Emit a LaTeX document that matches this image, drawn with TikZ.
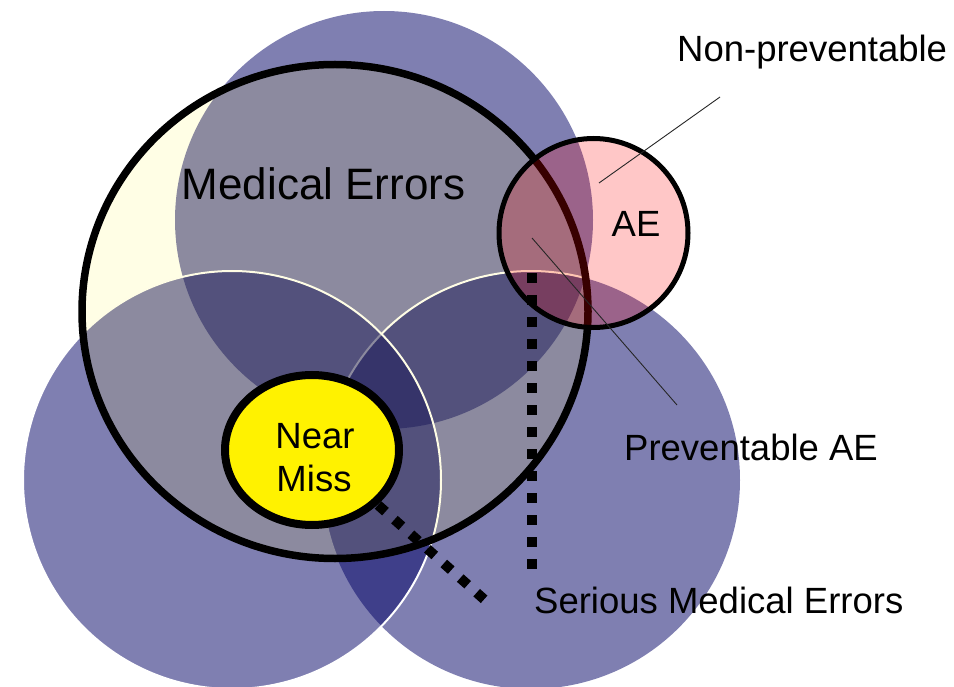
\documentclass[tikz,border=0pt]{standalone}
\usepackage{fontspec}
\setmainfont{Liberation Sans}
\definecolor{disknavy}{RGB}{0,0,100}
\begin{document}
\begin{tikzpicture}[x=1pt,y=-1pt,
  blob/.style={fill=disknavy, fill opacity=0.5},
  rim/.style={draw=white, line width=2pt},
  lbl/.style={font=\fontsize{36.5}{43}\selectfont, inner sep=0pt, anchor=base west},
  squaredots/.style={line width=10pt, dash pattern=on 10pt off 12pt, line cap=butt},
  pointer/.style={line width=0.9pt, draw=black!85}]
\useasboundingbox (0,0) rectangle (954,687);
\clip (0,0) rectangle (954,687);

% three overlapping translucent disks
\fill[blob] (384,220) circle[radius=209];
\fill[blob] (531,480) circle[radius=209];
\begin{scope}
  \clip (335,311.5) ellipse[x radius=253, y radius=247];
  \draw[rim] (531,480) circle[radius=209];
\end{scope}
\fill[blob] (232,480) circle[radius=209];
\draw[rim] (232,480) circle[radius=209];

% Medical Errors set
\fill[yellow, fill opacity=0.1] (335,311.5) ellipse[x radius=253, y radius=247];
\draw[line width=7.5pt] (335,311.5) ellipse[x radius=253, y radius=247];

% adverse events set
\fill[red, fill opacity=0.22] (593.5,233) circle[radius=94.5];
\draw[line width=5pt] (593.5,233) circle[radius=94.5];

% near miss set
\draw[line width=8pt, fill=yellow] (312,450) ellipse[x radius=87, y radius=75];

% serious medical errors markers
\coordinate (sv-top) at (532,273);
\coordinate (sv-bot) at (532,571);
\draw[squaredots] (sv-top) -- (sv-bot);
\coordinate (sd-start) at (378,505);
\coordinate (sd-end) at (486,601);
\draw[squaredots] (sd-start) -- (sd-end);

% leader lines
\coordinate (np-tail) at (720,97);
\coordinate (np-tip) at (599,183);
\draw[pointer] (np-tail) -- (np-tip);
\coordinate (pae-tip) at (532,238);
\coordinate (pae-tail) at (677,405);
\draw[pointer] (pae-tip) -- (pae-tail);

% labels
\node[lbl, font=\fontsize{44}{50}\selectfont, anchor=base] (me) at (323.5,200) {Medical Errors};
\node[lbl] (np) at (677,62) {Non-preventable};
\node[lbl, anchor=base] (ae) at (636,237) {AE};
\node[lbl, anchor=base] (nm1) at (315,448) {Near};
\node[lbl, anchor=base] (nm2) at (314,491) {Miss};
\node[lbl] (pae) at (624,460) {Preventable AE};
\node[lbl] (sme) at (534,613) {Serious Medical Errors};
\end{tikzpicture}
\end{document}
